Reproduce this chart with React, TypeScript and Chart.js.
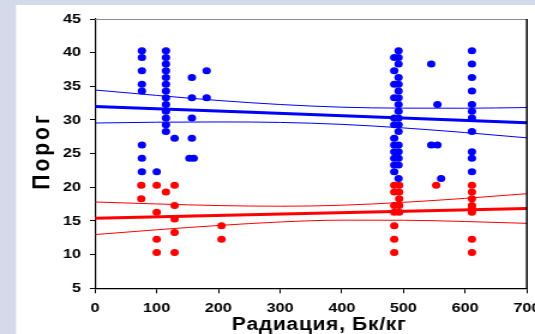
import React, { useEffect, useRef } from "react";
import { Chart, registerables } from "chart.js";

Chart.register(...registerables);

// ---- Texts ----
const X_TITLE = "Радиация, Бк/кг";
const Y_TITLE = "Порог";

// ---- Axis ranges / ticks ----
const X_MIN = 0;
const X_MAX = 700;
const X_STEP = 100;
const Y_MIN = 5;
const Y_MAX = 45;
const Y_STEP = 5;

// ---- Blue series (upper threshold points) ----
const blueX = [
  76, 76, 76, 76, 76, 76, 76, 76,
  100,
  115, 115, 115, 115, 115, 115, 115, 115, 115, 115, 115, 115, 115,
  129,
  157, 157, 157, 157, 153, 160,
  181, 181,
  485, 485, 485, 485, 485, 485, 485, 485, 485, 485, 485, 485,
  492, 492, 492, 492, 492, 492, 492, 492, 492, 492, 492, 492, 492, 492, 492, 492, 492,
  545, 545, 555, 555, 561,
  611, 611, 611, 611, 611, 611, 611, 611, 611, 611, 611,
];
const blueY = [
  40.3, 39.3, 37.3, 35.3, 34.3, 26.3, 24.3, 22.3,
  22.3,
  40.3, 39.3, 38.3, 37.3, 36.3, 35.3, 34.3, 33.3, 32.3, 31.3, 30.3, 29.3, 28.3,
  27.3,
  36.3, 33.3, 30.3, 27.3, 24.3, 24.3,
  37.3, 33.3,
  39.3, 37.3, 35.3, 33.3, 30.3, 29.3, 27.3, 26.3, 25.3, 24.3, 23.3, 22.3,
  40.3, 39.3, 38.3, 36.3, 35.3, 34.3, 33.3, 32.3, 31.3, 30.3, 29.3, 28.3, 26.3, 25.3, 24.3, 23.3, 21.3,
  38.3, 26.3, 32.3, 26.3, 21.3,
  40.3, 38.3, 36.3, 34.3, 32.3, 31.3, 30.3, 28.3, 25.3, 24.3, 22.3,
];

// ---- Red series (lower threshold points) ----
const redX = [
  75, 75,
  100, 100, 100, 100,
  115,
  129, 129, 129, 129, 129,
  205, 205,
  485, 485, 485, 485, 485, 485, 485,
  493, 493, 493, 493, 493,
  553,
  611, 611, 611, 611, 611, 611, 611, 611,
];
const redY = [
  20.3, 18.3,
  20.3, 16.3, 12.3, 10.3,
  19.3,
  20.3, 17.3, 15.3, 13.3, 10.3,
  14.3, 12.3,
  20.3, 19.3, 17.3, 16.3, 14.3, 12.3, 10.3,
  20.3, 19.3, 18.3, 17.3, 16.3,
  20.3,
  20.3, 19.3, 18.3, 17.3, 16.8, 16.3, 12.3, 10.3,
];

// ---- Regression lines ----
const fitX = [0, 700];
const blueFit = [32.0, 29.6];
const redFit = [15.4, 16.85];

// ---- Confidence bands (read at every 100) ----
const bandX = [0, 100, 200, 300, 400, 500, 600, 700];
const blueUpper = [34.45, 33.65, 32.9, 32.3, 31.9, 31.76, 31.75, 31.85];
const blueLower = [29.55, 29.67, 29.71, 29.64, 29.35, 28.82, 28.13, 27.35];
const redUpper = [17.82, 17.53, 17.29, 17.19, 17.34, 17.77, 18.36, 19.05];
const redLower = [12.98, 13.69, 14.33, 14.85, 15.12, 15.11, 14.92, 14.65];

const BLUE = "#0000FF";
const RED = "#FF0000";
const FONT = "'Liberation Sans', Arial, Helvetica, sans-serif";

// canvas is drawn narrower and stretched horizontally, like the reference
const SCREEN_W = 535;
const SCREEN_H = 334;
const CANVAS_W = 446;
const STRETCH = SCREEN_W / CANVAS_W;

const zip = (xs: number[], ys: number[]) => xs.map((x, i) => ({ x, y: ys[i] }));

const decor = {
  id: "decor",
  beforeDraw(chart: any) {
    const { ctx, width, height } = chart;
    ctx.save();
    ctx.fillStyle = "#D4DAE9";
    ctx.fillRect(0, 0, width, height);
    ctx.fillStyle = "#FFFFFF";
    ctx.fillRect(13.3, 5, width - 13.3, height - 5);
    ctx.restore();
  },
  afterDraw(chart: any) {
    const { ctx, chartArea: a } = chart;
    ctx.save();
    ctx.strokeStyle = "#8C8C8C";
    ctx.lineWidth = 1;
    ctx.beginPath();
    ctx.moveTo(a.left, a.top + 0.5);
    ctx.lineTo(a.right, a.top + 0.5);
    ctx.stroke();
    ctx.strokeStyle = "#000000";
    ctx.lineWidth = 1.5;
    ctx.beginPath();
    ctx.moveTo(a.right, a.top);
    ctx.lineTo(a.right, a.bottom);
    ctx.stroke();

    ctx.fillStyle = "#000000";
    ctx.textAlign = "center";
    ctx.textBaseline = "middle";
    ctx.font = `bold 17.5px ${FONT}`;
    (ctx as any).letterSpacing = "0.6px";
    ctx.fillText(X_TITLE, 266.1, 325);

    ctx.translate(35.4, 152.5);
    ctx.rotate(-Math.PI / 2);
    ctx.font = `bold 21px ${FONT}`;
    (ctx as any).letterSpacing = "3px";
    ctx.fillText(Y_TITLE, 1.5, 0);
    ctx.restore();
  },
};

export default function App() {
  const ref = useRef<HTMLCanvasElement | null>(null);

  useEffect(() => {
    if (!ref.current) return;
    const pointDs = (label: string, xs: number[], ys: number[], color: string) => ({
      type: "scatter" as const,
      label,
      data: zip(xs, ys),
      backgroundColor: color,
      borderColor: color,
      borderWidth: 0,
      pointRadius: 3.5,
      pointHoverRadius: 3.5,
      showLine: false,
      order: 0,
    });
    const lineDs = (label: string, xs: number[], ys: number[], color: string, w: number) => ({
      type: "line" as const,
      label,
      data: zip(xs, ys),
      borderColor: color,
      backgroundColor: color,
      borderWidth: w,
      pointRadius: 0,
      showLine: true,
      fill: false,
      cubicInterpolationMode: "monotone" as const,
      order: 1,
    });

    const chart = new Chart(ref.current, {
      type: "scatter",
      data: {
        datasets: [
          pointDs("Верхний порог", blueX, blueY, BLUE),
          pointDs("Нижний порог", redX, redY, RED),
          lineDs("Регрессия (синие)", fitX, blueFit, BLUE, 3),
          lineDs("Верх. граница (синие)", bandX, blueUpper, BLUE, 1),
          lineDs("Ниж. граница (синие)", bandX, blueLower, BLUE, 1),
          lineDs("Регрессия (красные)", fitX, redFit, RED, 3),
          lineDs("Верх. граница (красные)", bandX, redUpper, RED, 1),
          lineDs("Ниж. граница (красные)", bandX, redLower, RED, 1),
        ] as any,
      },
      options: {
        animation: false,
        responsive: false,
        devicePixelRatio: 1,
        layout: { padding: { left: 13.3, right: 6.8, top: 19, bottom: 0 } },
        plugins: {
          legend: { display: false },
          tooltip: { enabled: false },
          title: { display: false },
        },
        events: [],
        scales: {
          x: {
            type: "linear",
            min: X_MIN,
            max: X_MAX,
            ticks: {
              stepSize: X_STEP,
              color: "#000000",
              font: { family: FONT, size: 13.5, weight: "bold" },
              padding: 7,
              maxRotation: 0,
            },
            grid: {
              display: true,
              drawOnChartArea: false,
              drawTicks: true,
              tickLength: 5,
              color: "#000000",
              lineWidth: 1,
            },
            border: { display: true, color: "#000000", width: 1.3 },
            title: { display: false },
            afterFit: (s: any) => {
              s.height = 45.7;
              s.paddingLeft = 0;
              s.paddingRight = 0;
            },
          },
          y: {
            type: "linear",
            min: Y_MIN,
            max: Y_MAX,
            ticks: {
              stepSize: Y_STEP,
              color: "#000000",
              font: { family: FONT, size: 13.5, weight: "bold" },
              padding: 7.5,
            },
            grid: {
              display: true,
              drawOnChartArea: false,
              drawTicks: true,
              tickLength: 4.2,
              color: "#000000",
              lineWidth: 1,
            },
            border: { display: true, color: "#000000", width: 1.2 },
            title: { display: false },
            afterFit: (s: any) => {
              s.width = 65.9;
              s.paddingTop = 0;
              s.paddingBottom = 0;
            },
          },
        },
      } as any,
      plugins: [decor],
    });
    return () => chart.destroy();
  }, []);

  return (
    <div
      style={{
        position: "fixed",
        left: 0,
        top: 0,
        width: SCREEN_W,
        height: SCREEN_H,
        overflow: "hidden",
        background: "#D4DAE9",
      }}
    >
      <div
        style={{
          width: CANVAS_W,
          height: SCREEN_H,
          transform: `scaleX(${STRETCH})`,
          transformOrigin: "0 0",
        }}
      >
        <canvas
          ref={ref}
          width={CANVAS_W}
          height={SCREEN_H}
          style={{ display: "block", width: CANVAS_W, height: SCREEN_H }}
        />
      </div>
    </div>
  );
}
